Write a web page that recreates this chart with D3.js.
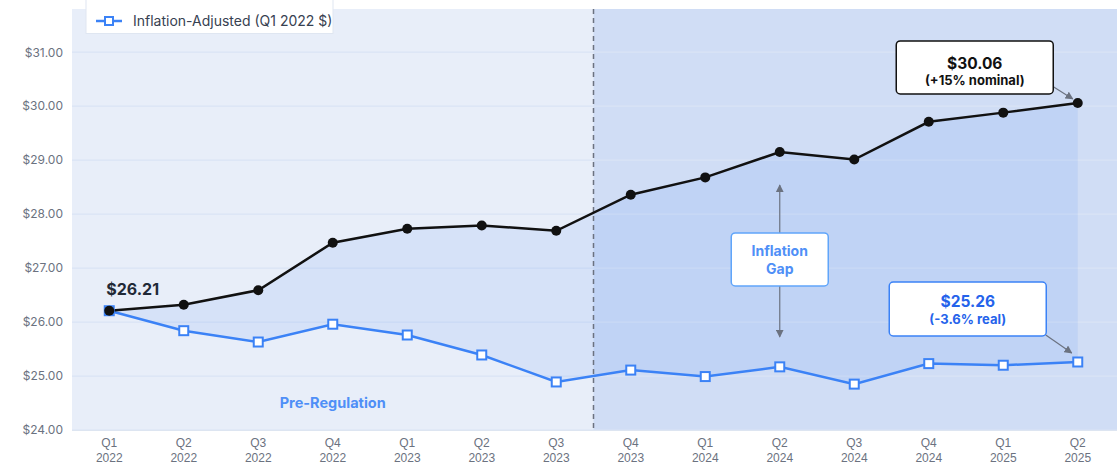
<!DOCTYPE html>
<html>
<head>
<meta charset="utf-8">
<script src="https://cdn.jsdelivr.net/npm/d3@7"></script>
<style>
  html, body { margin: 0; padding: 0; background: #ffffff; }
  svg { display: block; font-family: Inter, "Noto Sans", sans-serif; }
</style>
</head>
<body>
<div id="chart"></div>
<script>
// data
const quarters = ['Q1', 'Q2', 'Q3', 'Q4', 'Q1', 'Q2', 'Q3', 'Q4', 'Q1', 'Q2', 'Q3', 'Q4', 'Q1', 'Q2'];
const years = ['2022', '2022', '2022', '2022', '2023', '2023', '2023', '2023', '2024', '2024', '2024', '2024', '2025', '2025'];
const nominal = [26.21, 26.32, 26.59, 27.47, 27.73, 27.79, 27.69, 28.36, 28.68, 29.15, 29.01, 29.71, 29.88, 30.06];
const real = [26.21, 25.84, 25.63, 25.96, 25.76, 25.39, 24.89, 25.11, 24.99, 25.17, 24.85, 25.23, 25.20, 25.26];
const yTicks = [24, 25, 26, 27, 28, 29, 30, 31];
const regulationIndex = 7; // first post-regulation quarter
const gapIndex = 9;

const width = 1117;
const height = 466;
const margin = { top: 9, right: 2, bottom: 36, left: 72 };

const labels = quarters.map((q, i) => q + ' ' + years[i]);

const svg = d3.select('#chart')
  .append('svg')
  .attr('width', width)
  .attr('height', height);

const x = d3.scaleBand()
  .domain(labels)
  .range([margin.left, width - margin.right]);

const y = d3.scaleLinear()
  .domain([24, 31.8])
  .range([height - margin.bottom, margin.top]);

const cx = i => x(labels[i]) + x.bandwidth() / 2;
const plotBottom = height - margin.bottom;
const splitX = (cx(regulationIndex - 1) + cx(regulationIndex)) / 2;

// backgrounds
svg.append('rect')
  .attr('x', margin.left)
  .attr('y', margin.top)
  .attr('width', width - margin.right - margin.left)
  .attr('height', plotBottom - margin.top)
  .attr('fill', '#e8eef9');

svg.append('rect')
  .attr('x', splitX)
  .attr('y', margin.top)
  .attr('width', width - splitX)
  .attr('height', plotBottom - margin.top)
  .attr('fill', '#d0ddf5');

// grid
svg.append('g')
  .selectAll('line')
  .data(yTicks)
  .join('line')
  .attr('x1', margin.left)
  .attr('x2', width)
  .attr('y1', d => y(d))
  .attr('y2', d => y(d))
  .attr('stroke', '#dae3f5')
  .attr('stroke-width', 1.2);

// gap area between the two series
const area = d3.area()
  .x((d, i) => cx(i))
  .y0((d, i) => y(real[i]))
  .y1(d => y(d));

svg.append('path')
  .datum(nominal)
  .attr('fill', '#3b82f6')
  .attr('fill-opacity', 0.1)
  .attr('d', area);

// bottom edge
svg.append('line')
  .attr('x1', margin.left)
  .attr('x2', width)
  .attr('y1', plotBottom + 0.5)
  .attr('y2', plotBottom + 0.5)
  .attr('stroke', '#dde5f1');

// regulation divider
svg.append('line')
  .attr('x1', splitX)
  .attr('x2', splitX)
  .attr('y1', margin.top)
  .attr('y2', plotBottom)
  .attr('stroke', '#6b7280')
  .attr('stroke-width', 1.5)
  .attr('stroke-dasharray', '5,4');

// axes
const yAxis = svg.append('g')
  .attr('transform', `translate(${margin.left},0)`)
  .call(d3.axisLeft(y).tickValues(yTicks).tickFormat(d3.format('$.2f')).tickSize(0).tickPadding(9));
yAxis.select('.domain').remove();
yAxis.selectAll('text')
  .attr('fill', '#6b7280')
  .attr('font-size', 12)
  .attr('font-family', 'Inter, sans-serif');

const xAxis = svg.append('g')
  .attr('transform', `translate(0,${plotBottom})`)
  .call(d3.axisBottom(x).tickSize(0).tickFormat(''));
xAxis.select('.domain').remove();
xAxis.selectAll('.tick text').remove();
xAxis.selectAll('.tick')
  .append('text')
  .attr('text-anchor', 'middle')
  .attr('fill', '#6b7280')
  .attr('font-size', 12)
  .selectAll('tspan')
  .data((d, i) => [quarters[i], years[i]])
  .join('tspan')
  .attr('x', 0)
  .attr('y', (d, j) => j === 0 ? 17 : 32)
  .text(d => d);

// lines
const line = d3.line()
  .x((d, i) => cx(i))
  .y(d => y(d));

svg.append('path')
  .datum(real)
  .attr('fill', 'none')
  .attr('stroke', '#3b82f6')
  .attr('stroke-width', 2.5)
  .attr('d', line);

svg.append('path')
  .datum(nominal)
  .attr('fill', 'none')
  .attr('stroke', '#111111')
  .attr('stroke-width', 2.5)
  .attr('d', line);

svg.append('g')
  .selectAll('rect')
  .data(real)
  .join('rect')
  .attr('x', (d, i) => cx(i) - 4.5)
  .attr('y', d => y(d) - 4.5)
  .attr('width', 9)
  .attr('height', 9)
  .attr('fill', '#ffffff')
  .attr('stroke', '#3b82f6')
  .attr('stroke-width', 2);

svg.append('g')
  .selectAll('circle')
  .data(nominal)
  .join('circle')
  .attr('cx', (d, i) => cx(i))
  .attr('cy', d => y(d))
  .attr('r', 5)
  .attr('fill', '#111111');

// arrow marker
svg.append('defs')
  .append('marker')
  .attr('id', 'arrow')
  .attr('viewBox', '0 0 10 10')
  .attr('refX', 9)
  .attr('refY', 5)
  .attr('markerWidth', 8)
  .attr('markerHeight', 8)
  .attr('markerUnits', 'userSpaceOnUse')
  .attr('orient', 'auto')
  .append('path')
  .attr('d', 'M0,0L10,5L0,10Z')
  .attr('fill', '#6b7280');

function arrow(x1, y1, x2, y2) {
  svg.append('line')
    .attr('x1', x1).attr('y1', y1)
    .attr('x2', x2).attr('y2', y2)
    .attr('stroke', '#6b7280')
    .attr('stroke-width', 1.2)
    .attr('marker-end', 'url(#arrow)');
}

function callout(bx, by, w, h, stroke, color, lines) {
  svg.append('rect')
    .attr('x', bx - w / 2)
    .attr('y', by)
    .attr('width', w)
    .attr('height', h)
    .attr('rx', 4)
    .attr('fill', '#ffffff')
    .attr('stroke', stroke)
    .attr('stroke-width', 1.5);
  lines.forEach(l => {
    svg.append('text')
      .attr('x', bx)
      .attr('y', by + l.dy)
      .attr('text-anchor', 'middle')
      .attr('font-size', l.size)
      .attr('font-weight', 700)
      .attr('fill', color)
      .text(l.text);
  });
}

// start label
svg.append('text')
  .attr('x', cx(0) - 3)
  .attr('y', y(nominal[0]) - 16)
  .attr('font-size', 16)
  .attr('font-weight', 700)
  .attr('fill', '#1f2937')
  .text('$' + nominal[0].toFixed(2));

// end callouts
const last = nominal.length - 1;
arrow(cx(last) - 24, y(nominal[last]) - 16, cx(last) - 5, y(nominal[last]) - 4);
callout(cx(last) - 103, y(nominal[last]) - 62, 157, 53, '#111111', '#111111', [
  { text: '$' + nominal[last].toFixed(2), size: 15.5, dy: 28 },
  { text: '(+15% nominal)', size: 13, dy: 44 }
]);

arrow(cx(last) - 32, y(real[last]) - 27, cx(last) - 6, y(real[last]) - 9);
callout(cx(last) - 110, y(real[last]) - 80, 157, 54, '#3b82f6', '#2563eb', [
  { text: '$' + real[last].toFixed(2), size: 15.5, dy: 25 },
  { text: '(-3.6% real)', size: 13, dy: 42 }
]);

// inflation gap
const gx = cx(gapIndex);
const gMid = (y(nominal[gapIndex]) + y(real[gapIndex])) / 2;
arrow(gx, gMid - 26, gx, y(nominal[gapIndex]) + 33);
arrow(gx, gMid + 26, gx, y(real[gapIndex]) - 30);
callout(gx, gMid - 26.5, 97, 53, '#60a5fa', '#4f8ff7', [
  { text: 'Inflation', size: 14, dy: 23 },
  { text: 'Gap', size: 14, dy: 41 }
]);

// region label
svg.append('text')
  .attr('x', (margin.left + splitX) / 2)
  .attr('y', plotBottom - 22)
  .attr('text-anchor', 'middle')
  .attr('font-size', 14.5)
  .attr('font-weight', 700)
  .attr('fill', '#4f8ff7')
  .text('Pre-Regulation');

// legend
const legend = svg.append('g').attr('transform', 'translate(86,0)');
legend.append('rect')
  .attr('x', 0)
  .attr('y', -6)
  .attr('width', 247)
  .attr('height', 39.5)
  .attr('fill', '#ffffff')
  .attr('stroke', '#dfe6f1');
legend.append('line')
  .attr('x1', 10).attr('x2', 36)
  .attr('y1', 21).attr('y2', 21)
  .attr('stroke', '#3b82f6')
  .attr('stroke-width', 2.5);
legend.append('rect')
  .attr('x', 19).attr('y', 17)
  .attr('width', 8).attr('height', 8)
  .attr('fill', '#ffffff')
  .attr('stroke', '#3b82f6')
  .attr('stroke-width', 2);
legend.append('text')
  .attr('x', 47)
  .attr('y', 26)
  .attr('font-size', 14)
  .attr('fill', '#374151')
  .text('Inflation-Adjusted (Q1 2022 $)');
</script>
</body>
</html>
